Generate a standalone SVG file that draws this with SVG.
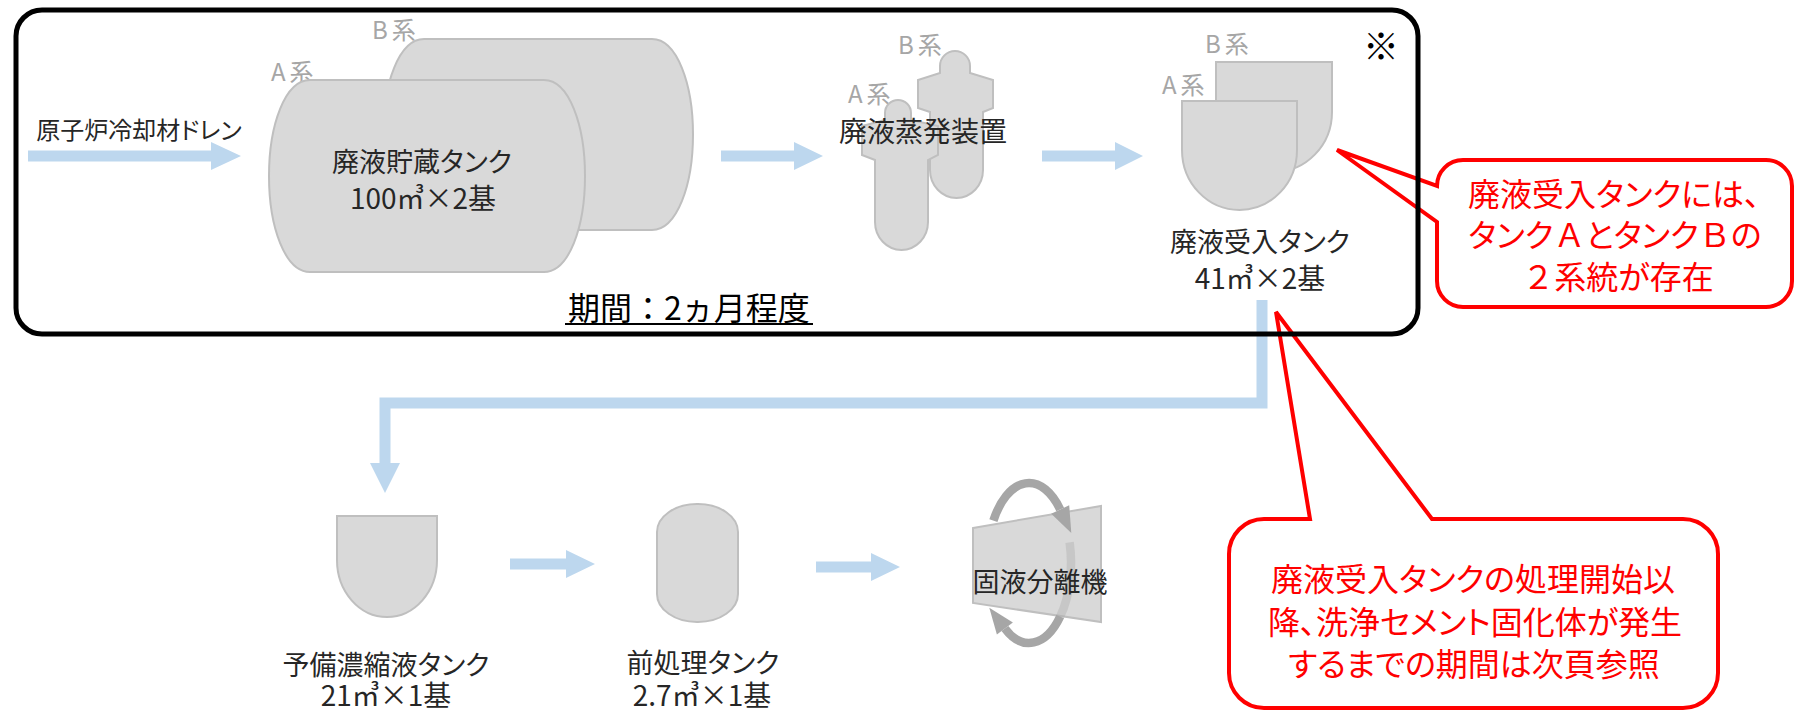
<svg xmlns="http://www.w3.org/2000/svg" width="1796" height="712" viewBox="0 0 1796 712">
  <style>
    text { font-family: "Noto Sans CJK JP", "Noto Sans", sans-serif; font-feature-settings: "palt"; }
    .lbl { fill: #262626; font-size: 27px; text-anchor: middle; dominant-baseline: central; }
    .num { fill: #262626; font-size: 28px; text-anchor: middle; dominant-baseline: central; font-feature-settings: normal; }
    .sys { fill: #a6a6a6; font-size: 24px; letter-spacing: 4px; dominant-baseline: central; }
    .tank { fill: #d9d9d9; stroke: #bfbfbf; stroke-width: 2; }
    .flow { fill: #bdd7ee; }
    .pipe { fill: none; stroke: #bdd7ee; stroke-width: 11; }
    .spin { fill: none; stroke: #a6a6a6; stroke-width: 8.5; }
    .spinhead { fill: #a6a6a6; }
    .note { fill: #ffffff; stroke: #ff0000; stroke-width: 4; stroke-linejoin: miter; }
    .notetext { fill: #ff0000; font-size: 32px; text-anchor: middle; dominant-baseline: central; }
    .fw { font-feature-settings: normal; }
  </style>

  <rect width="1796" height="712" fill="#ffffff"/>

  <!-- flow connectors -->
  <g id="connectors">
    <polygon class="flow" points="28,150.5 211,150.5 211,142 241,156 211,170 211,161.5 28,161.5"/>
    <polygon class="flow" points="721,150.5 794,150.5 794,142 823,156 794,170 794,161.5 721,161.5"/>
    <polygon class="flow" points="1042,150.5 1115,150.5 1115,142 1143,156 1115,170 1115,161.5 1042,161.5"/>
    <polyline class="pipe" points="1262,300 1262,403 385,403 385,464"/>
    <polygon class="flow" points="370,463 400,463 385,493"/>
    <polygon class="flow" points="510,558.5 566,558.5 566,550 595,564 566,578 566,569.5 510,569.5"/>
    <polygon class="flow" points="816,561.5 871,561.5 871,553 900,567 871,581 871,572.5 816,572.5"/>
  </g>

  <!-- inlet label -->
  <g id="inlet">
    <text class="lbl" x="139" y="128" style="font-size:24px">原子炉冷却材ドレン</text>
  </g>

  <!-- storage tanks A/B (horizontal drums) -->
  <g id="storage-tank">
    <text class="sys" x="372" y="28">B系</text>
    <path class="tank" d="M424,39 H652 C677,39 693,84 693,134.5 C693,185 677,230 652,230 H424 C399,230 383,185 383,134.5 C383,84 399,39 424,39 Z"/>
    <text class="sys" x="271" y="70">A系</text>
    <path class="tank" d="M310,80 H544 C569,80 585,125 585,176 C585,227 569,272 544,272 H310 C285,272 269,227 269,176 C269,125 285,80 310,80 Z"/>
    <text class="lbl" x="422" y="160">廃液貯蔵タンク</text>
    <text class="num" x="423" y="197">100㎥×2基</text>
  </g>

  <!-- evaporators A/B -->
  <g id="evaporator">
    <text class="sys" x="898" y="43">B系</text>
    <path class="tank" d="M940,73 V66 A15,15 0 0 1 970,66 V73 L993,80 V108 L983,112 V170 A26.5,28 0 0 1 930,170 V112 L918,108 V80 Z"/>
    <text class="sys" x="848" y="92">A系</text>
    <path class="tank" d="M885,120 V113 A13,13 0 0 1 911,113 V120 L938,126 V155 L928,160 V222 A26.5,28 0 0 1 875,222 V160 L862,155 V126 Z"/>
    <text class="lbl" x="923" y="130" style="font-size:28px">廃液蒸発装置</text>
  </g>

  <!-- receiving tanks A/B -->
  <g id="receiving-tank">
    <text class="sys" x="1205" y="42">B系</text>
    <path class="tank" d="M1216,62 H1332 V112 A58,60 0 0 1 1216,112 Z"/>
    <text class="sys" x="1162" y="83">A系</text>
    <path class="tank" d="M1182,101 H1297 V150 A57.5,60 0 0 1 1182,150 Z"/>
    <text class="lbl" x="1260" y="240">廃液受入タンク</text>
    <text class="num" x="1260" y="277">41㎥×2基</text>
  </g>

  <!-- spare concentrate tank -->
  <g id="spare-tank">
    <path class="tank" d="M337,516 H437 V560 A50,57 0 0 1 337,560 Z"/>
    <text class="lbl" x="386" y="663">予備濃縮液タンク</text>
    <text class="num" x="386" y="694">21㎥×1基</text>
  </g>

  <!-- pre-treatment tank -->
  <g id="pretreatment-tank">
    <rect class="tank" x="657" y="504" width="81" height="118" rx="40" ry="28"/>
    <text class="lbl" x="703" y="661">前処理タンク</text>
    <text class="num" x="702" y="694">2.7㎥×1基</text>
  </g>

  <!-- solid-liquid separator: drum with rotation arrows -->
  <g id="separator">
    <polygon class="tank" points="973,528 1101,506 1101,622 973,603"/>
    <path class="spin" d="M993.4,520.6 A42,80 0 0 1 1060.2,509.5"/>
    <polygon class="spinhead" points="1051.2,513.8 1069.2,505.2 1071.3,533"/>
    <path class="spin" opacity="0.35" d="M1069.6,542.3 A42,80 0 0 1 1060.2,616.5"/>
    <path class="spin" d="M1060.2,616.5 A42,80 0 0 1 1004.9,628.5"/>
    <polygon class="spinhead" points="1012.9,622.5 996.9,634.5 989.3,607.7"/>
    <text class="lbl" x="1040" y="580">固液分離機</text>
  </g>

  <!-- callout: two trains -->
  <g id="note-trains">
    <path class="note" d="M1337,150 L1437,186 A26,26 0 0 1 1463,160 H1766 A26,26 0 0 1 1792,186 V281 A26,26 0 0 1 1766,307 H1463 A26,26 0 0 1 1437,281 V222 Z"/>
    <text class="notetext" x="1614" y="192">廃液受入タンクには、</text>
    <text class="notetext" x="1615" y="233">タンク<tspan class="fw">Ａ</tspan>とタンク<tspan class="fw">Ｂ</tspan>の</text>
    <text class="notetext" x="1618" y="275"><tspan class="fw">２</tspan>系統が存在</text>
  </g>

  <!-- callout: period reference -->
  <g id="note-period">
    <path class="note" d="M1276,312 L1432,519 H1683 A35,35 0 0 1 1718,554 V673 A35,35 0 0 1 1683,708 H1264 A35,35 0 0 1 1229,673 V554 A35,35 0 0 1 1264,519 H1310 Z"/>
    <text class="notetext" x="1473" y="577">廃液受入タンクの処理開始以</text>
    <text class="notetext" x="1475" y="620">降、洗浄セメント固化体が発生</text>
    <text class="notetext" x="1474" y="662">するまでの期間は次頁参照</text>
  </g>

  <!-- first-stage frame -->
  <g id="stage-frame">
    <rect x="16" y="10" width="1402" height="324" rx="26" ry="26" fill="none" stroke="#000000" stroke-width="5"/>
    <text x="1381" y="44" fill="#000000" text-anchor="middle" dominant-baseline="central" style="font-size:36px">※</text>
    <text x="689" y="306" fill="#000000" text-anchor="middle" dominant-baseline="central" style="font-size:32px; font-feature-settings: normal">期間：2ヵ月程度</text>
    <line x1="565" y1="324" x2="813" y2="324" stroke="#000000" stroke-width="2"/>
  </g>
</svg>
